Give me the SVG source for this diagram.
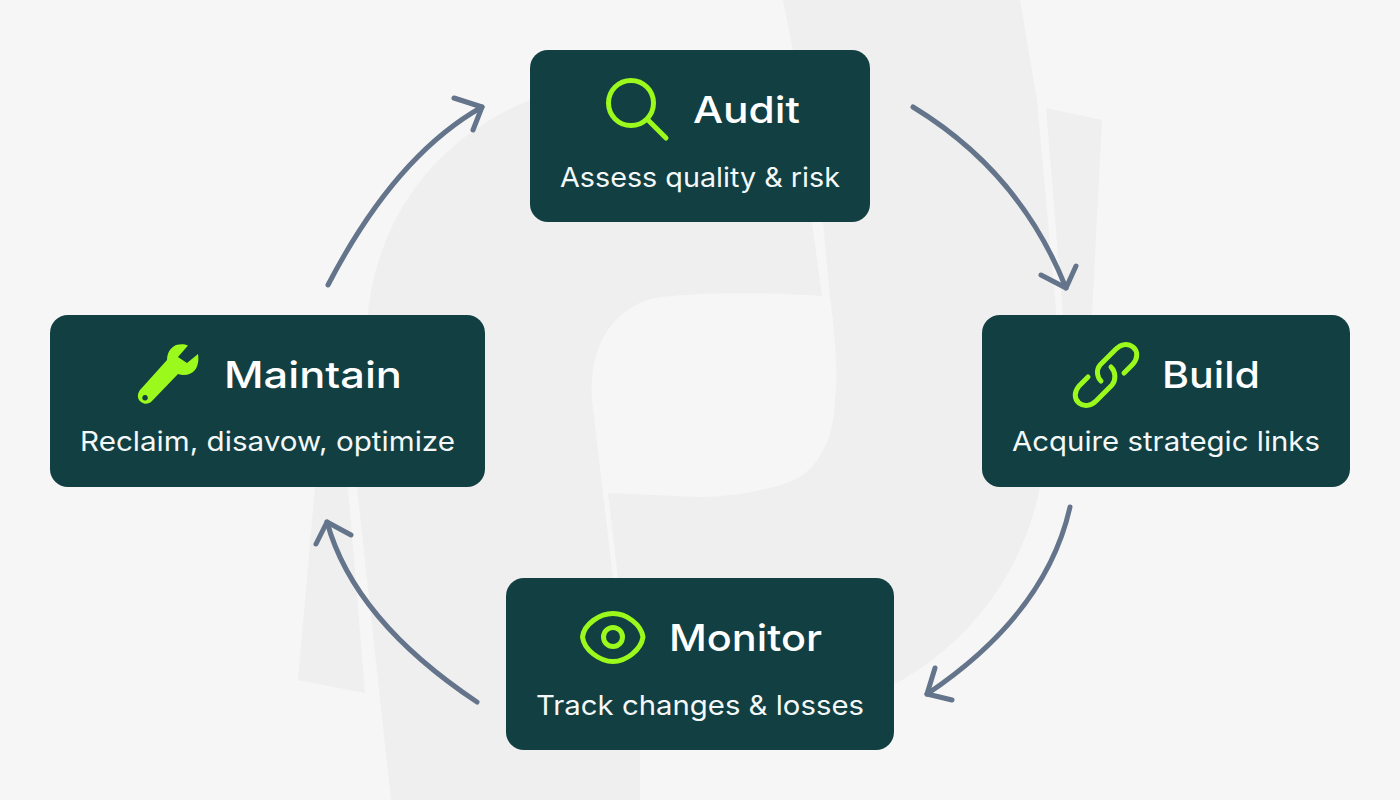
<svg xmlns="http://www.w3.org/2000/svg" width="1400" height="800" viewBox="0 0 1400 800">
<style>
.node{fill:#113F42}
.title{font-family:"Inter","Noto Sans",sans-serif;font-size:37px;font-weight:500;fill:#fff}
.sub{font-family:"Inter","Noto Sans",sans-serif;font-size:27px;font-weight:400;fill:#f4f8f8}
.ico{fill:none;stroke:#9BF91C;stroke-width:5;stroke-linecap:round;stroke-linejoin:round}
.arrow{fill:none;stroke:#64748B;stroke-width:5;stroke-linecap:round;stroke-linejoin:round}
.sh{fill:#efefef}
.gap{fill:#f6f6f6}
</style>
<rect width="1400" height="800" fill="#f6f6f6"/>
<g id="background">
<path class="sh" d="M783,0 L1020,0 L1037,100 L1055,300 C1060,340 1052,440 1040,487 C1025,565 975,640 897,683 L640,700 L640,800 L391,800 L357,487 L368,313 C376,235 420,145 530,100 L795,60 Z"/>
<path class="sh" d="M1046,108 L1102,120 L1092,315 L1063,315 Z"/>
<path class="sh" d="M315,487 L348,487 L365,693 L298,680 Z"/>
<path class="gap" d="M647,300 C680,292 760,292 822,296 L812,222 L823,222 L830,297 C836,340 838,380 835,400 C834,430 825,460 800,477 C775,490 730,497 700,497 L608,493 L618,578 L613,578 L592,400 C590,370 595,320 647,300 Z"/>
</g>
<g id="connectors">
<path class="arrow" d="M328,285 Q395,156 482,107"/><path class="arrow" d="M454,98 L482,107 L473,130"/>
<path class="arrow" d="M913,107 Q1020,172 1066,288"/><path class="arrow" d="M1041,275 L1066,288 L1076,266"/>
<path class="arrow" d="M1070,507 Q1046,614 927,694"/><path class="arrow" d="M935,668 L927,694 L952,700"/>
<path class="arrow" d="M477,702 Q354,620 327,522"/><path class="arrow" d="M316,544 L327,522 L351,535"/>
</g>
<g id="audit">
<rect class="node" x="530" y="50" width="340" height="172" rx="18"/>
<circle class="ico" cx="631" cy="103" r="22.5"/><path class="ico" d="M648,120 L666,138"/>
<text class="title" x="693" y="123" textLength="107" lengthAdjust="spacingAndGlyphs">Audit</text>
<text class="sub" x="560" y="187" textLength="280" lengthAdjust="spacingAndGlyphs">Assess quality &amp; risk</text>
</g>
<g id="build">
<rect class="node" x="982" y="315" width="368" height="172" rx="18"/>
<path class="ico" d="M1124,373 L1133,364 C1138,358 1138,351 1133,347 C1128,343 1121,344 1116,349 L1100,365 C1096,370 1097,377 1101,381"/>
<path class="ico" d="M1088,377 L1079,386 C1074,392 1074,399 1079,403 C1084,407 1091,406 1096,401 L1112,385 C1116,380 1116,372 1111,367"/>
<text class="title" x="1162" y="388" textLength="98" lengthAdjust="spacingAndGlyphs">Build</text>
<text class="sub" x="1012" y="451" textLength="308" lengthAdjust="spacingAndGlyphs">Acquire strategic links</text>
</g>
<g id="monitor">
<rect class="node" x="506" y="578" width="388" height="172" rx="18"/>
<path class="ico" d="M582.500,637 C584,624 600,613.500 613,613.500 C626,613.500 641,624 643,637 C641,650 626,661.500 613,661.500 C600,661.500 584,650 582.500,637 Z"/>
<circle class="ico" cx="613" cy="637" r="9.500"/>
<text class="title" x="669" y="651" textLength="153" lengthAdjust="spacingAndGlyphs">Monitor</text>
<text class="sub" x="536" y="715" textLength="328" lengthAdjust="spacingAndGlyphs">Track changes &amp; losses</text>
</g>
<g id="maintain">
<rect class="node" x="50" y="315" width="435" height="172" rx="18"/>
<path fill="#9BF91C" fill-rule="evenodd" d="M188,345.500 C184,343.500 180,344 176,345 C170,348 167,353 167,360 L140,390 C137,394 137,399 141,402 C145,405 149,404 152,401 L178,374 C184,376 191,375 195,370 C198,366 199,360 198,354 L187,363 L178,357 Z M145,395 a2.800,2.800 0 1 0 0.100,0 Z"/>
<text class="title" x="224" y="388" textLength="178" lengthAdjust="spacingAndGlyphs">Maintain</text>
<text class="sub" x="80" y="451" textLength="375" lengthAdjust="spacingAndGlyphs">Reclaim, disavow, optimize</text>
</g>
</svg>
